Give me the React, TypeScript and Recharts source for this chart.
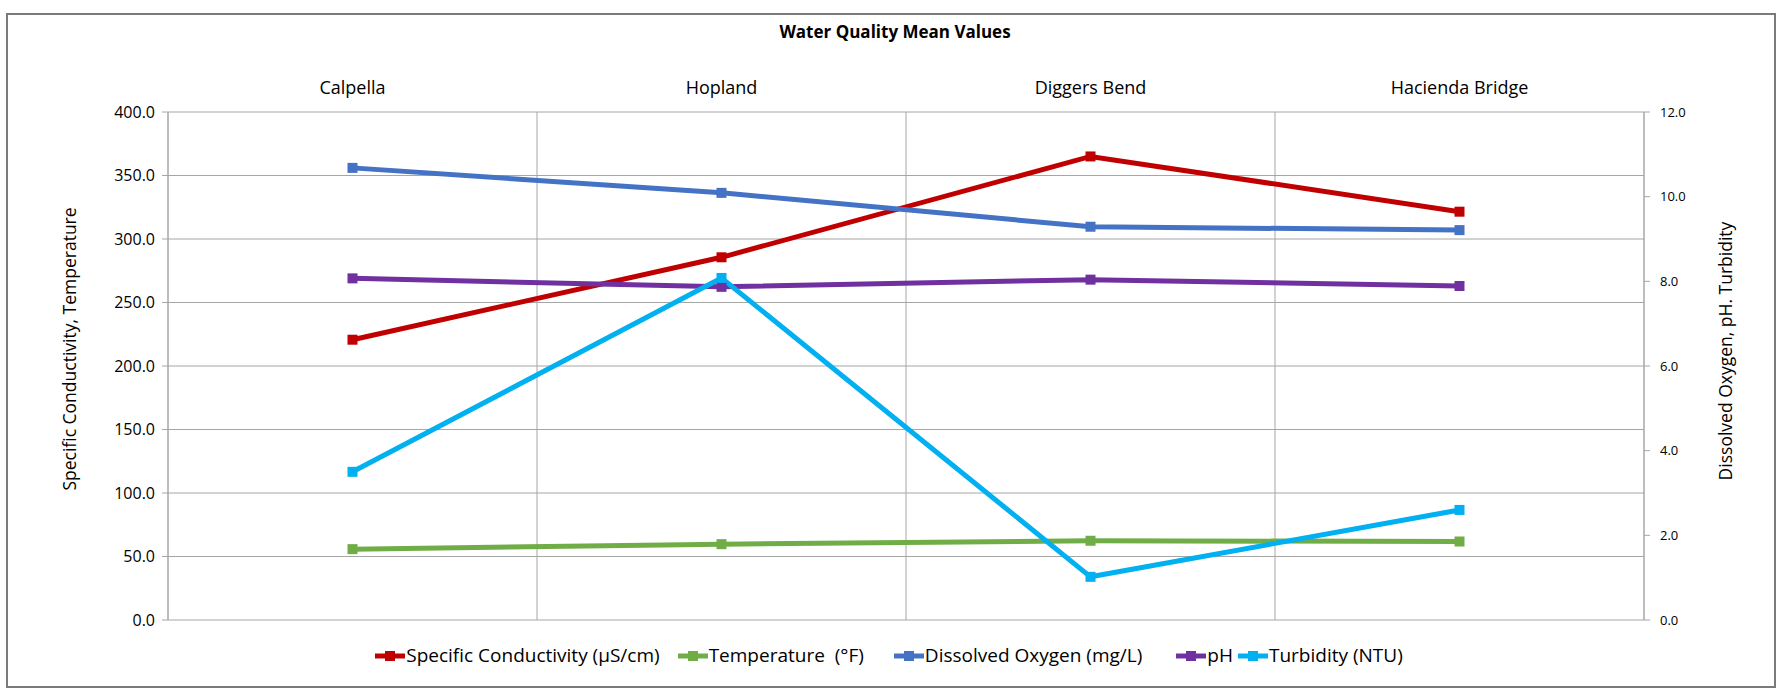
import { LineChart, Line, XAxis, YAxis, CartesianGrid, Legend, Label } from 'recharts';

const sites = ['Calpella', 'Hopland', 'Diggers Bend', 'Hacienda Bridge'];
const conductivity = [220.7, 285.6, 365.0, 321.5];
const temperature = [55.8, 59.7, 62.4, 61.8];
const dissolvedOxygen = [10.68, 10.09, 9.29, 9.21];
const ph = [8.07, 7.87, 8.04, 7.89];
const turbidity = [3.5, 8.08, 1.02, 2.6];

const leftTicks = [0, 50, 100, 150, 200, 250, 300, 350, 400];
const rightTicks = [0, 2, 4, 6, 8, 10, 12];

const FONT = "'Open Sans', Carlito, Calibri, sans-serif";

const series = [
  { key: 'cond', name: 'Specific Conductivity (µS/cm)', color: '#C00000', axis: 'left' },
  { key: 'temp', name: 'Temperature  (°F)', color: '#70AD47', axis: 'left' },
  { key: 'do', name: 'Dissolved Oxygen (mg/L)', color: '#4472C4', axis: 'right' },
  { key: 'ph', name: 'pH', color: '#7030A0', axis: 'right' },
  { key: 'turb', name: 'Turbidity (NTU)', color: '#00B0F0', axis: 'right' },
];

// spacing after each legend entry (excel spaces them unevenly)
const legendGaps = [18, 30, 34, 5, 0];

const data = sites.map((site, i) => ({
  site,
  cond: conductivity[i],
  temp: temperature[i],
  do: dissolvedOxygen[i],
  ph: ph[i],
  turb: turbidity[i],
}));

const squareDot = (color: string) => (props: any) => {
  const { cx, cy, index } = props;
  if (cx == null || cy == null) return <g key={index} />;
  return <rect key={index} x={cx - 5} y={cy - 5} width={10} height={10} fill={color} />;
};

// vertical grid lines sit on the category boundaries, not on the points
const boundaryLines = ({ offset }: any) => {
  const n = sites.length;
  return Array.from({ length: n + 1 }, (_, k) => offset.left + (offset.width * k) / n);
};

const LegendContent = () => (
  <div
    style={{
      display: 'flex',
      justifyContent: 'center',
      alignItems: 'center',
      height: 30,
      fontFamily: FONT,
      fontSize: 19,
      color: '#000',
    }}
  >
    {series.map((s, i) => (
      <div key={s.key} style={{ display: 'flex', alignItems: 'center', marginRight: legendGaps[i] }}>
        <svg width={30} height={12} style={{ marginRight: 1 }}>
          <line x1={0} y1={7} x2={30} y2={7} stroke={s.color} strokeWidth={5} />
          <rect x={10} y={2} width={10} height={10} fill={s.color} />
        </svg>
        <span style={{ whiteSpace: 'pre' }}>{s.name}</span>
      </div>
    ))}
  </div>
);

export default function App() {
  return (
    <div style={{ position: 'absolute', left: 0, top: 0, width: 1778, height: 690, background: '#fff' }}>
      <div
        style={{
          position: 'absolute',
          left: 6,
          top: 13,
          width: 1766,
          height: 671,
          border: '2px solid #7a7a7a',
        }}
      />
      <div
        style={{
          position: 'absolute',
          left: 0,
          top: 20,
          width: 1790,
          textAlign: 'center',
          fontFamily: FONT,
          fontWeight: 'bold',
          fontSize: 17,
          color: '#000',
        }}
      >
        Water Quality Mean Values
      </div>
      <div style={{ position: 'absolute', left: 0, top: 0 }}>
        <LineChart
          width={1778}
          height={690}
          data={data}
          margin={{ top: 82, right: 34, bottom: 40, left: 68 }}
        >
          <CartesianGrid
            xAxisId="cat"
            yAxisId="left"
            stroke="#a6a6a6"
            strokeWidth={1}
            verticalCoordinatesGenerator={boundaryLines}
          />
          <XAxis
            xAxisId="cat"
            dataKey="site"
            orientation="top"
            height={30}
            axisLine={false}
            tickLine={false}
            tickMargin={12}
            padding={{ left: 184.5, right: 184.5 }}
            tick={{ fill: '#000', fontSize: 18, fontFamily: FONT }}
          />
          <YAxis
            yAxisId="left"
            width={100}
            domain={[0, 400]}
            ticks={leftTicks}
            tickFormatter={(v: number) => v.toFixed(1)}
            stroke="#a6a6a6"
            tickSize={6}
            tickMargin={7}
            tick={{ fill: '#000', fontSize: 16, fontFamily: FONT }}
          >
            <Label
              value="Specific Conductivity, Temperature"
              angle={-90}
              position="center"
              dx={-48}
              dy={-17}
              style={{ fill: '#000', fontSize: 17.5, fontFamily: FONT }}
            />
          </YAxis>
          <YAxis
            yAxisId="right"
            orientation="right"
            width={100}
            domain={[0, 12]}
            ticks={rightTicks}
            tickFormatter={(v: number) => v.toFixed(1)}
            stroke="#a6a6a6"
            tickSize={6}
            tickMargin={10}
            tick={{ fill: '#000', fontSize: 13, fontFamily: FONT }}
          >
            <Label
              value="Dissolved Oxygen, pH. Turbidity"
              angle={-90}
              position="center"
              dx={32}
              dy={-15}
              style={{ fill: '#000', fontSize: 17.5, fontFamily: FONT }}
            />
          </YAxis>
          {series.map((s) => (
            <Line
              key={s.key}
              xAxisId="cat"
              yAxisId={s.axis}
              dataKey={s.key}
              name={s.name}
              stroke={s.color}
              strokeWidth={5}
              dot={squareDot(s.color)}
              activeDot={false}
              isAnimationActive={false}
            />
          ))}
          <Legend
            verticalAlign="bottom"
            content={<LegendContent />}
            wrapperStyle={{ top: 640, left: 0, width: 1778 }}
          />
        </LineChart>
      </div>
    </div>
  );
}
